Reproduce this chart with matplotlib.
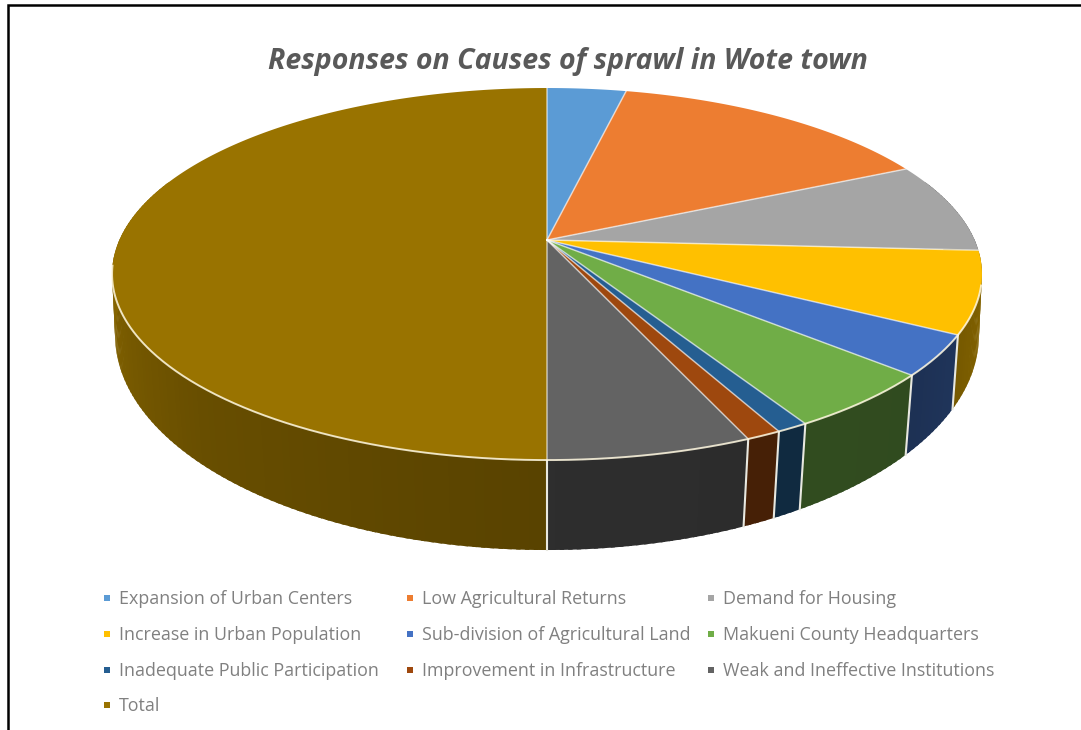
import numpy as np
import matplotlib
matplotlib.use('Agg')
import matplotlib.pyplot as plt
from matplotlib.colors import to_rgb

title = 'Responses on Causes of sprawl in Wote town'
categories = ['Expansion of Urban Centers', 'Low Agricultural Returns', 'Demand for Housing',
              'Increase in Urban Population', 'Sub-division of Agricultural Land',
              'Makueni County Headquarters', 'Inadequate Public Participation',
              'Improvement in Infrastructure', 'Weak and Ineffective Institutions', 'Total']
values = [3.5, 14.5, 7.9, 7.1, 3.5, 5.0, 1.0, 1.1, 6.4, 50.0]
colors = ['#5B9BD5', '#ED7D31', '#A5A5A5', '#FFC000', '#4472C4',
          '#70AD47', '#255E91', '#9E480E', '#636363', '#997300']

# perspective of the top and bottom discs, in pixels
CX = 547
TOP = dict(a=427.6, b=179.8, y0=240, k=0.183)
BOT = dict(a=426.0, b=209.1, y0=299.6, k=0.165)


def project(theta, disc):
    # theta in degrees, clockwise from 12 o'clock
    t = np.radians(theta)
    u, v = np.sin(t), np.cos(t)
    w = 1 + disc['k'] * v
    return CX + disc['a'] * u / w, disc['y0'] - disc['b'] * v / w


def wall_shade(theta):
    return np.interp(theta, [90, 130, 179.9, 180.1, 225, 270, 300],
                     [0.55, 0.43, 0.46, 0.58, 0.68, 0.9, 0.95])


fig = plt.figure(figsize=(10.81, 7.30), dpi=100)
ax = fig.add_axes([0, 0, 1, 1])
ax.set_xlim(0, 1081)
ax.set_ylim(730, 0)
ax.axis('off')

# frame on the top and left only
ax.plot([8, 8, 1081], [730, 5, 5], color='black', lw=1.8, solid_joinstyle='miter')

ax.text(568, 62, title, ha='center', va='center', fontsize=20.5, color='#595959',
        family='Open Sans', weight='bold', style='italic')

edges = np.concatenate([[0], np.cumsum(values)]) * 360 / sum(values)

# side wall: each strip overlaps the next one so no seams show
for i, color in enumerate(colors):
    start, end = max(edges[i], 70), min(edges[i + 1], 290)
    if end <= start:
        continue
    steps = np.linspace(start, end, int(end - start) + 2)
    for t0, t1 in zip(steps[:-1], steps[1:]):
        t_far = min(t1 + 0.5, end)
        t = np.linspace(t0, t_far, 6)
        xt, yt = project(t, TOP)
        xb, yb = project(t, BOT)
        shade = np.array(to_rgb(color)) * wall_shade((t0 + t1) / 2)
        ax.fill(np.r_[xt, xb[::-1]], np.r_[yt, yb[::-1]], color=shade, lw=0, zorder=2)

# wall dividers
for t in edges[1:]:
    if 100 < t <= 180:
        x0, y0 = project(t, TOP)
        x1, y1 = project(t, BOT)
        ax.plot([x0, x1], [y0, y1], color='#e8e8e0', lw=1.5, zorder=3)

# top face
for i, color in enumerate(colors):
    t = np.linspace(edges[i], edges[i + 1], 200)
    x, y = project(t, TOP)
    ax.fill(np.r_[CX, x], np.r_[TOP['y0'], y], color=color, lw=0, zorder=4)

# spokes and the front rim
for t in edges[:-1]:
    x, y = project(t, TOP)
    ax.plot([CX, x], [TOP['y0'], y], color='white', alpha=0.6, lw=1.1, zorder=5)
t = np.linspace(104, 262, 400)
x, y = project(t, TOP)
ax.plot(x, y, color='#fff8e0', alpha=0.85, lw=1.4, zorder=5)

# legend
legend_x = [107, 410, 711]
legend_y = [598, 634, 670, 705]
for i, (name, color) in enumerate(zip(categories, colors)):
    lx, ly = legend_x[i % 3], legend_y[i // 3]
    ax.scatter([lx], [ly], marker='s', s=13, color=color, lw=0, zorder=6)
    ax.text(lx + 12, ly + 1, name, ha='left', va='center', fontsize=12.9, color='#808080',
            family='Open Sans')

fig.savefig('out.png', dpi=100)
